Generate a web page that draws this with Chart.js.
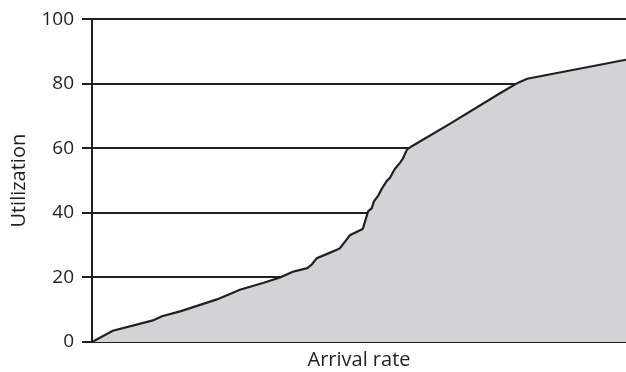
<!DOCTYPE html>
<html>
<head>
<meta charset="utf-8">
<script src="https://cdn.jsdelivr.net/npm/chart.js@4/dist/chart.umd.min.js"></script>
<style>
  html, body { margin: 0; padding: 0; background: #fff; }
  #wrap { width: 626px; height: 372px; }
</style>
</head>
<body>
<div id="wrap"><canvas id="util"></canvas></div>
<script>
// arrival rate (x, 0..100 relative) and utilization (%)
const arrivalRate = [0, 3.9, 11.4, 13.1, 16.5, 23.4, 27.7, 32, 35.2, 37.6, 40.3, 41.2, 42.1, 44.6, 46.4, 47.6, 48.3, 50.7, 51.7, 52.4, 52.8, 53.6, 54.3, 55.2, 55.8, 56.7, 57.7, 58.2, 59, 59.9, 67, 76.4, 79.8, 81.5, 100];
const utilization = [0, 3.5, 6.7, 8, 9.5, 13.2, 16.2, 18.3, 20, 21.8, 22.9, 24.1, 26, 27.7, 29, 31.6, 33.1, 35, 40.5, 41.5, 43.6, 45.4, 47.6, 49.9, 50.9, 53.6, 55.6, 56.8, 59.7, 60.7, 67.6, 77.1, 80.4, 81.6, 87.5];
const yTicks = [0, 20, 40, 60, 80, 100];

const fontFamily = "'Open Sans', 'Noto Sans', sans-serif";
const ink = "#231f20";

const points = arrivalRate.map((x, i) => ({ x: x, y: utilization[i] }));

new Chart(document.getElementById("util").getContext("2d"), {
  type: "line",
  data: {
    datasets: [{
      label: "Utilization",
      data: points,
      borderColor: ink,
      borderWidth: 2.2,
      backgroundColor: "#d2d3d5",
      fill: "origin",
      pointRadius: 0,
      tension: 0,
    }],
  },
  options: {
    responsive: true,
    maintainAspectRatio: false,
    animation: false,
    layout: { padding: { top: 15, right: 0, left: 0, bottom: 0 } },
    plugins: { legend: { display: false }, tooltip: { enabled: false } },
    scales: {
      x: {
        type: "linear",
        min: 0,
        max: 100,
        ticks: { display: false },
        grid: { display: false },
        border: { display: true, color: ink, width: 2 },
        title: {
          display: true,
          text: "Arrival rate",
          color: ink,
          font: { family: fontFamily, size: 20 },
          padding: { top: 0, bottom: 0 },
        },
        afterFit: (scale) => { scale.height = 30; },
      },
      y: {
        min: 0,
        max: 100,
        afterBuildTicks: (scale) => { scale.ticks = yTicks.map(v => ({ value: v })); },
        ticks: {
          color: ink,
          padding: 8,
          font: { family: fontFamily, size: 19 },
        },
        grid: {
          color: ink,
          lineWidth: 2,
          drawTicks: true,
          tickLength: 10,
          tickColor: ink,
        },
        border: { display: true, color: ink, width: 2 },
        title: {
          display: true,
          text: "Utilization",
          color: ink,
          font: { family: fontFamily, size: 20 },
          padding: { top: 7, bottom: 0 },
        },
        afterFit: (scale) => { scale.width = 92; },
      },
    },
  },
});
</script>
</body>
</html>
